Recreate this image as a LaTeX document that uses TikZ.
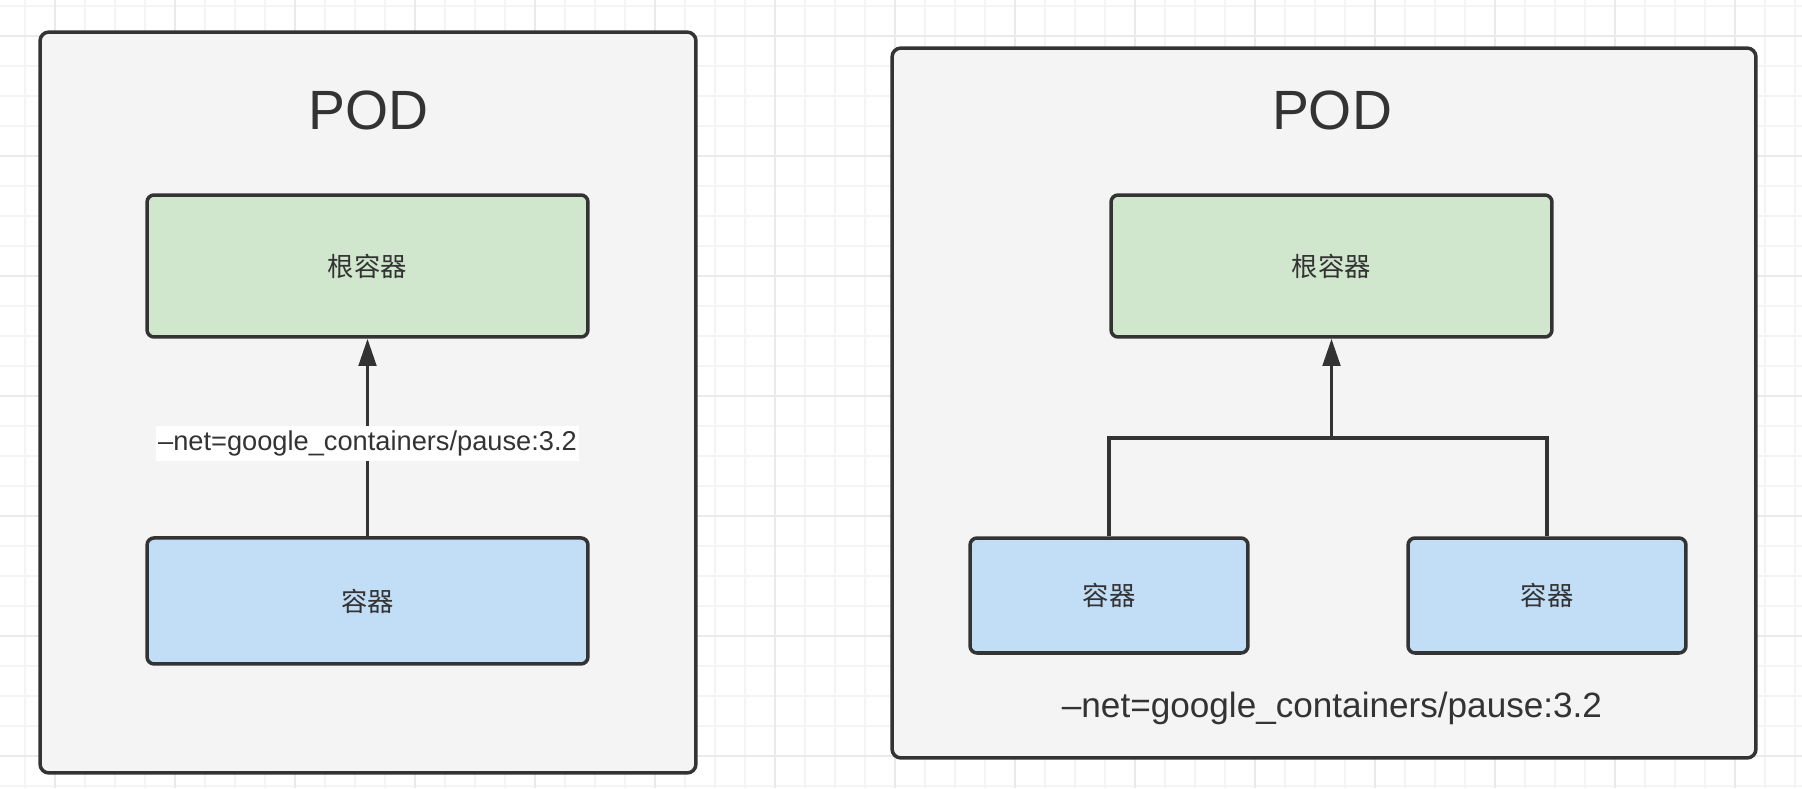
\documentclass[tikz,border=0pt]{standalone}
\usepackage{fontspec}
\setmainfont{Liberation Sans}
\newfontfamily\cjk{Noto Sans CJK SC}
\usepackage{xcolor}
\definecolor{mainDark}{HTML}{333333}
\definecolor{podBg}{HTML}{F4F4F4}
\definecolor{rootBg}{HTML}{D0E6CD}
\definecolor{ctrBg}{HTML}{C2DDF6}
\definecolor{gridMinor}{HTML}{F4F4F4}
\definecolor{gridMajor}{HTML}{EAEAEA}
\usepackage{tikz}
\usetikzlibrary{positioning,calc,arrows.meta}
\tikzset{%
  podBox/.style={%
    rectangle,
    rounded corners=5pt,
    draw=mainDark,
    fill=podBg,
    line width=2pt
  },
  rootBox/.style={%
    rectangle,
    rounded corners=4pt,
    draw=mainDark,
    fill=rootBg,
    line width=2pt,
    minimum width=8.82cm,
    minimum height=2.84cm,
    text=mainDark,
    font=\cjk\fontsize{15}{18}\selectfont
  },
  ctrBox/.style={%
    rectangle,
    rounded corners=4pt,
    draw=mainDark,
    fill=ctrBg,
    line width=2pt,
    text=mainDark,
    font=\cjk\fontsize{15}{18}\selectfont
  },
  podTitle/.style={%
    text=mainDark,
    font=\fontsize{31.5}{36}\selectfont
  },
  arrowLine/.style={%
    -{Triangle[length=15.5pt,width=10pt]},
    line width=1.9pt,
    color=mainDark
  },
  plainLine/.style={%
    line width=1.9pt,
    color=mainDark
  },
  netLabel/.style={%
    fill=white,
    text=mainDark,
    inner xsep=1pt,
    inner ysep=3pt,
    font=\fontsize{15.5}{18}\selectfont
  },
  gridLine/.style={%
    line width=1pt
  }
}

\begin{document}
\begin{tikzpicture}[x=0.02cm,y=-0.02cm]
  \useasboundingbox (0,0) rectangle (1802,788);
  % background grid
  \foreach \gx in {25,55,...,1801} \draw[gridLine, gridMinor] (\gx,0) -- (\gx,788);
  \foreach \gy in {6,36,...,788} \draw[gridLine, gridMinor] (0,\gy) -- (1802,\gy);
  \foreach \gx in {55,175,...,1801} \draw[gridLine, gridMajor] (\gx,0) -- (\gx,788);
  \foreach \gy in {36,156,...,788} \draw[gridLine, gridMajor] (0,\gy) -- (1802,\gy);

  % left pod
  \node[podBox, minimum width=13.12cm, minimum height=14.82cm] (podL) at (368,402.5) {};
  \node[podTitle] (titleL) at (368.5,110) {POD};
  \node[rootBox] (rootL) at (367.5,266) {根容器};
  \node[ctrBox, minimum width=8.82cm, minimum height=2.52cm, below=3.95cm of rootL] (ctrL) {容器};
  \draw[arrowLine] (ctrL) -- node[netLabel, yshift=-0.12cm]{–net=google\_containers/pause:3.2} (rootL);

  % right pod
  \node[podBox, minimum width=17.28cm, minimum height=14.2cm] (podR) at (1324,403) {};
  \node[podTitle] (titleR) at (1332,110) {POD};
  \node[rootBox] (rootR) at (1331.5,266) {根容器};
  \node[ctrBox, minimum width=5.56cm, minimum height=2.3cm] (ctrR1) at (1109,595.5) {容器};
  \node[ctrBox, minimum width=5.56cm, minimum height=2.3cm] (ctrR2) at (1547,595.5) {容器};
  \coordinate (joint) at (1331.5,438);
  \draw[plainLine] (ctrR1.north) |- (joint) -| (ctrR2.north);
  \draw[arrowLine] (joint) -- (rootR);
  \node[text=mainDark, font=\fontsize{20}{24}\selectfont] (netR) at (1332,708.5) {–net=google\_containers/pause:3.2};
\end{tikzpicture}
\end{document}
